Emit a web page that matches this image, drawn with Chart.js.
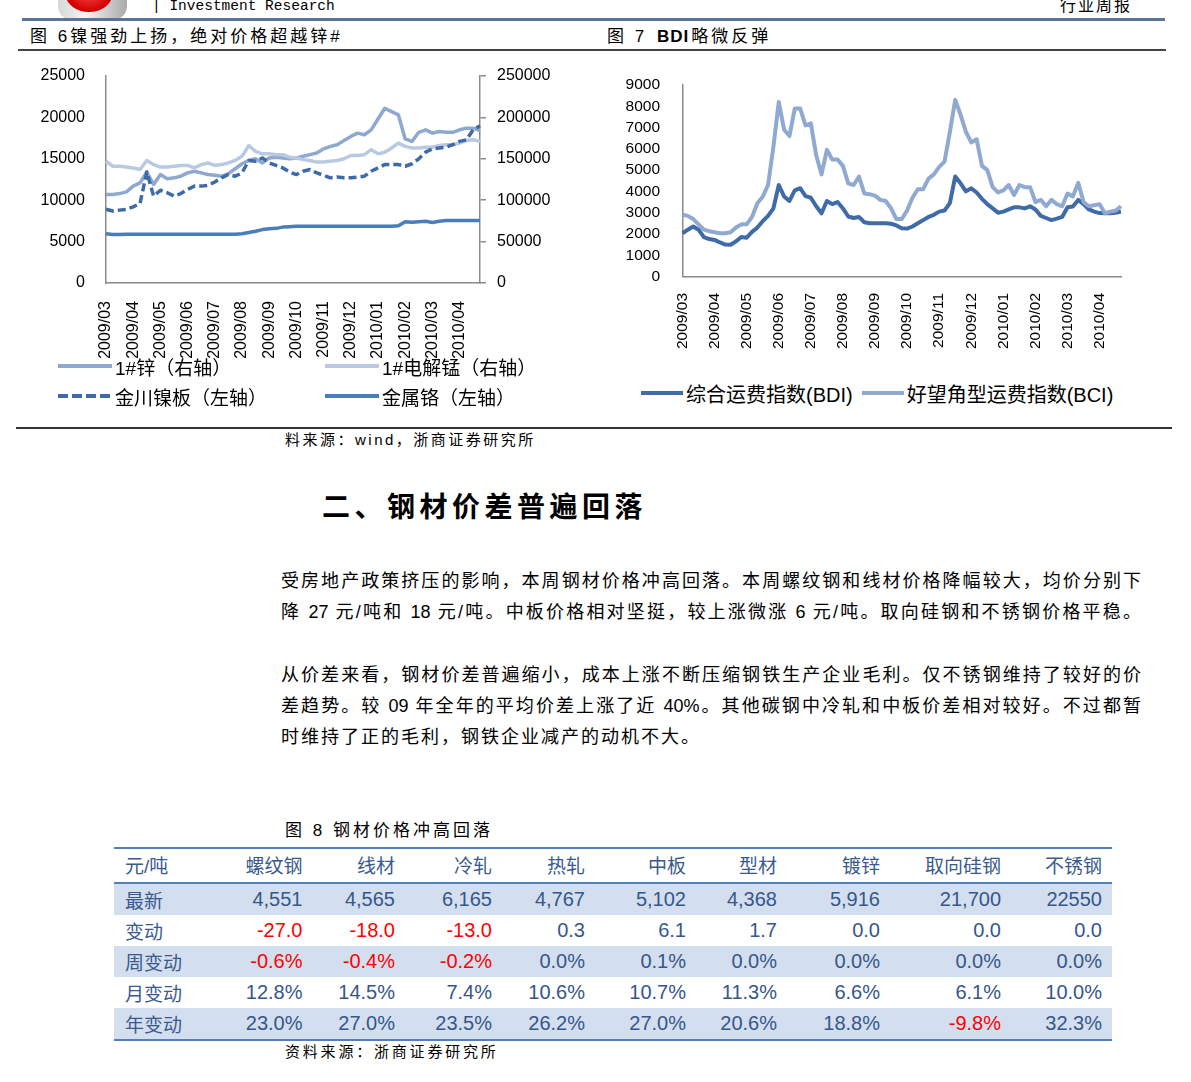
<!DOCTYPE html>
<html>
<head>
<meta charset="utf-8">
<script src="https://cdn.jsdelivr.net/npm/chart.js@4/dist/chart.umd.min.js"></script>
<style>
body{margin:0;width:1191px;height:1082px;position:relative;overflow:hidden;background:#fff;
  font-family:"Liberation Sans","Noto Sans CJK SC",sans-serif;color:#000}
.abs{position:absolute;white-space:nowrap}
.rule{position:absolute}
canvas{position:absolute}
.cap{font-size:17px;line-height:20px;letter-spacing:3px}
.cap b{letter-spacing:1px;margin:0 2px}
.body{position:absolute;left:281px;width:860px;font-size:18px;line-height:24px;white-space:nowrap}
.just{text-align:justify;text-align-last:justify;white-space:normal}
.lg-item{display:flex;align-items:center;white-space:nowrap}
.lg-sw{display:inline-block;height:4px;margin-right:3px}
#lg1{position:absolute;left:58px;top:351px;display:grid;grid-template-columns:267px 267px;grid-auto-rows:30px;font-size:19px}
#lg1 .lg-sw{width:54px}
#lg2{position:absolute;left:641px;top:378px;height:30px;display:flex;gap:9px;font-size:20px}
#lg2 .lg-sw{width:42px}
#tbl{position:absolute;left:114px;top:847px;width:998px;border-collapse:collapse;table-layout:fixed;
  border-top:2px solid #4F81BD;border-bottom:2px solid #4F81BD;color:#36568C}
#tbl th,#tbl td{padding:0 10px 0 0;text-align:right;height:31px;white-space:nowrap}
#tbl th{font-weight:normal;font-size:19px;border-bottom:2px solid #4F81BD;height:30px;color:#3A5A8F;padding-bottom:3px}
#tbl td{font-size:20px}
#tbl td:first-child,#tbl th:first-child{text-align:left;padding-left:11px;font-size:19px;color:#3A5A8F}
#tbl tr.sh td{background:#D3DFEE}
.neg{color:#FF0000}
</style>
</head>
<body>

<!-- page header -->
<div class="abs" style="left:58px;top:-30px;width:69px;height:50px;border-radius:14px;background:linear-gradient(90deg,#d8d8d8,#f4f4f4 40%,#a9a9a9)"></div>
<div class="abs" style="left:66px;top:-22px;width:46px;height:34px;border-radius:50%;background:radial-gradient(circle at 50% 30%,#ff5a5a,#d30000 70%)"></div>
<div class="abs" style="left:152px;top:-3px;font-family:'Liberation Mono',monospace;font-size:14.5px;line-height:18px">| Investment Research</div>
<div class="abs" style="left:1060px;top:-3px;font-size:16px;line-height:18px;letter-spacing:2px">行业周报</div>
<div class="rule" style="left:22px;top:18px;width:1143px;height:3px;background:#5A7397"></div>

<div class="abs cap" style="left:30px;top:27px">图 6镍强劲上扬，绝对价格超越锌#</div>
<div class="abs cap" style="left:607px;top:27px">图 7 <b>BDI</b>略微反弹</div>
<div class="rule" style="left:18px;top:49px;width:1148px;height:2px;background:#444"></div>

<canvas id="c1" width="590" height="300" style="left:0;top:61px"></canvas>
<canvas id="c2" width="560" height="300" style="left:600px;top:60px"></canvas>
<div id="lg1"></div>
<div id="lg2"></div>

<div class="rule" style="left:16px;top:427px;width:1156px;height:1.5px;background:#333"></div>
<div class="abs" style="left:285px;top:430px;font-size:15px;line-height:20px;letter-spacing:2.5px">料来源：wind，浙商证券研究所</div>

<div class="abs" style="left:322px;top:490px;font-size:28px;line-height:36px;font-weight:bold;letter-spacing:4.5px">二、钢材价差普遍回落</div>

<div class="body just" style="top:569px">受房地产政策挤压的影响，本周钢材价格冲高回落。本周螺纹钢和线材价格降幅较大，均价分别下</div>
<div class="body just" style="top:600px">降 27 元/吨和 18 元/吨。中板价格相对坚挺，较上涨微涨 6 元/吨。取向硅钢和不锈钢价格平稳。</div>
<div class="body just" style="top:663px">从价差来看，钢材价差普遍缩小，成本上涨不断压缩钢铁生产企业毛利。仅不锈钢维持了较好的价</div>
<div class="body just" style="top:694px">差趋势。较 09 年全年的平均价差上涨了近 40%。其他碳钢中冷轧和中板价差相对较好。不过都暂</div>
<div class="body" style="top:725px;letter-spacing:2px">时维持了正的毛利，钢铁企业减产的动机不大。</div>

<div class="abs" style="left:285px;top:821px;font-size:17px;line-height:20px;letter-spacing:3px">图 8 钢材价格冲高回落</div>
<table id="tbl">
<colgroup>
<col style="width:100px"><col style="width:98.5px"><col style="width:92.5px"><col style="width:97px"><col style="width:93px">
<col style="width:101px"><col style="width:91px"><col style="width:103px"><col style="width:121px"><col style="width:101px">
</colgroup>
<thead><tr id="thead"></tr></thead>
<tbody id="tbody"></tbody>
</table>
<div class="abs" style="left:285px;top:1042px;font-size:15px;line-height:20px;letter-spacing:2.8px">资料来源：浙商证券研究所</div>

<script>
// ---- figure 6: metal prices, weekly, 2009/03 - 2010/04 ----
const months = ['2009/03','2009/04','2009/05','2009/06','2009/07','2009/08','2009/09',
                '2009/10','2009/11','2009/12','2010/01','2010/02','2010/03','2010/04'];

// right axis
const zinc = [107000,107000,108000,110000,117000,121000,134000,119000,131000,126000,
              127000,129000,133000,135000,133000,131000,130000,129000,132000,138000,
              144000,148000,150000,145000,151000,152000,151000,150000,151000,153000,
              155000,157000,162000,165000,167000,172000,177000,181000,179000,185000,
              198000,211000,207000,203000,174000,171000,182000,185000,181000,183000,
              182000,182000,185000,187000,187000,184000];
const manganese = [147000,141000,141000,140000,139000,137000,148000,143000,140000,140000,
                   141000,142000,142000,139000,143000,145000,142000,143000,145000,148000,
                   153000,166000,159000,156000,156000,155000,155000,152000,151000,149000,
                   148000,146000,146000,147000,148000,150000,154000,154000,155000,161000,
                   156000,158000,163000,169000,165000,163000,163000,164000,164000,166000,
                   167000,167000,169000,172000,173000,171000];
// left axis
const nickel = [8900,8700,8800,8900,9200,9600,13400,10500,11200,10900,
                10500,10800,11300,11700,11700,11800,12200,12700,13100,12900,
                13300,14800,14700,15100,14500,14200,13900,13400,13100,13500,
                13700,13300,13000,12700,12800,12700,12700,12800,12900,13500,
                13900,14300,14300,14300,14100,14400,15000,15800,16200,16300,
                16400,16700,17100,17300,18500,19000];
const chrome = [5950,5850,5850,5900,5900,5900,5900,5900,5900,5900,
                5900,5900,5900,5900,5900,5900,5900,5900,5900,5900,
                5950,6100,6250,6450,6550,6600,6750,6800,6850,6850,
                6850,6850,6850,6850,6850,6850,6850,6850,6850,6850,
                6850,6850,6850,6900,7400,7350,7400,7450,7300,7450,
                7550,7550,7550,7550,7550,7550];
const leftTicks = [0,5000,10000,15000,20000,25000];
const rightTicks = [0,50000,100000,150000,200000,250000];

// ---- figure 7: BDI / BCI ----
const bdi = [2030,2200,2350,2200,1850,1760,1720,1600,1500,1490,
             1650,1860,1820,2100,2300,2600,2850,3200,4300,3760,
             3550,4050,4150,3780,3700,3300,2970,3550,3400,3500,
             3200,2820,2750,2800,2550,2500,2500,2500,2500,2480,
             2400,2270,2250,2350,2500,2650,2800,2900,3050,3100,
             3450,4700,4380,4000,4150,3950,3650,3400,3200,3000,
             3050,3150,3250,3250,3200,3300,3150,2850,2750,2650,
             2720,2800,3250,3290,3600,3400,3150,3050,2980,2970,
             2970,3000,3050];
const bci = [2900,2850,2700,2450,2200,2130,2080,2030,2030,2080,
             2300,2450,2450,2800,3440,3750,4300,6100,8200,6900,
             6600,7900,7900,7100,7200,5700,4800,5950,5500,5500,
             5200,4380,4300,4700,3900,3870,3800,3600,3550,3200,
             2700,2700,3100,3700,4100,4100,4600,4800,5150,5400,
             6800,8300,7600,6800,6300,6450,5200,5000,4200,3950,
             4050,4300,3830,4300,4200,4200,3500,3600,3300,3600,
             3400,3300,3900,3760,4400,3500,3300,3350,3400,2970,
             3050,3100,3300];
const bdiTicks = [0,1000,2000,3000,4000,5000,6000,7000,8000,9000];

// ---- figure 8: steel price table ----
const products = ['螺纹钢','线材','冷轧','热轧','中板','型材','镀锌','取向硅钢','不锈钢'];
const latest = ['4,551','4,565','6,165','4,767','5,102','4,368','5,916','21,700','22550'];
const change = [-27.0,-18.0,-13.0,0.3,6.1,1.7,0.0,0.0,0.0];
const weekPct = [-0.6,-0.4,-0.2,0.0,0.1,0.0,0.0,0.0,0.0];
const monthPct = [12.8,14.5,7.4,10.6,10.7,11.3,6.6,6.1,10.0];
const yearPct = [23.0,27.0,23.5,26.2,27.0,20.6,18.8,-9.8,32.3];

Chart.defaults.font.family = "'Liberation Sans', 'Noto Sans CJK SC', sans-serif";
Chart.defaults.color = '#000';

const axisGrey = '#8a8a8a';

// fixed axis sizes, and no extra label padding pushed into the layout
function fixWidth(w){
    return function(scale){ scale.width = w; scale.paddingTop = 0; scale.paddingBottom = 0; };
}
function fixHeight(h){
    return function(scale){ scale.height = h; scale.paddingLeft = 0; scale.paddingRight = 0; };
}

function monthLabels(n, perMonth){
    let out = [];
    for (let i = 0; i < n; i++) out.push(months[Math.floor(i / perMonth)]);
    return out;
}

function xAxis(perMonth, h, pad, size){
    return {
        type: 'category',
        offset: false,
        grid: {display: false, drawTicks: false},
        border: {display: true, color: axisGrey, width: 1.5},
        afterFit: fixHeight(h),
        ticks: {
            autoSkip: false, minRotation: 90, maxRotation: 90, padding: pad,
            font: {size: size},
            callback: function(val, idx){
                return idx % perMonth === 0 ? this.getLabelForValue(val) : '';
            }
        }
    };
}

const c1 = new Chart(document.getElementById('c1'), {
    type: 'line',
    data: {
        labels: monthLabels(zinc.length, 4),
        datasets: [
            {label: '1#锌（右轴）', data: zinc, yAxisID: 'yR', borderColor: '#8FA8D0', order: 4},
            {label: '1#电解锰（右轴）', data: manganese, yAxisID: 'yR', borderColor: '#BAC9E2', order: 3},
            {label: '金川镍板（左轴）', data: nickel, yAxisID: 'yL', borderColor: '#3E6BA8', borderDash: [8, 4], order: 2},
            {label: '金属铬（左轴）', data: chrome, yAxisID: 'yL', borderColor: '#4A7EBB', order: 1}
        ]
    },
    options: {
        responsive: false,
        animation: false,
        devicePixelRatio: 1,
        layout: {padding: {top: 15, left: 0, right: 0, bottom: 0}},
        elements: {point: {radius: 0}, line: {borderWidth: 3.5, tension: 0, borderJoinStyle: 'round'}},
        plugins: {legend: {display: false}, tooltip: {enabled: false}},
        scales: {
            x: xAxis(4, 78, 18, 16),
            yL: {
                position: 'left', min: 0, max: 25000,
                afterFit: fixWidth(106),
                afterBuildTicks: function(s){ s.ticks = leftTicks.map(v => ({value: v})); },
                grid: {display: false, drawTicks: false},
                border: {display: true, color: axisGrey, width: 1.5},
                ticks: {padding: 21, autoSkip: false, font: {size: 16}, callback: v => String(v)}
            },
            yR: {
                position: 'right', min: 0, max: 250000,
                afterFit: fixWidth(110),
                afterBuildTicks: function(s){ s.ticks = rightTicks.map(v => ({value: v})); },
                grid: {display: true, drawOnChartArea: false, drawTicks: true, tickLength: 6, color: axisGrey, lineWidth: 1.5},
                border: {display: true, color: axisGrey, width: 1.5},
                ticks: {padding: 11, autoSkip: false, font: {size: 16}, callback: v => String(v)}
            }
        }
    }
});

const c2 = new Chart(document.getElementById('c2'), {
    type: 'line',
    data: {
        labels: monthLabels(bdi.length, 6),
        datasets: [
            {label: '综合运费指数(BDI)', data: bdi, borderColor: '#3F6CA8', order: 2},
            {label: '好望角型运费指数(BCI)', data: bci, borderColor: '#8FA9D0', order: 1}
        ]
    },
    options: {
        responsive: false,
        animation: false,
        devicePixelRatio: 1,
        layout: {padding: {top: 25, left: 0, right: 39, bottom: 0}},
        elements: {point: {radius: 0}, line: {borderWidth: 4, tension: 0, borderJoinStyle: 'round'}},
        plugins: {legend: {display: false}, tooltip: {enabled: false}},
        scales: {
            x: xAxis(6, 83.5, 16.5, 15.5),
            y: {
                min: 0, max: 9000,
                afterFit: fixWidth(82.5),
                afterBuildTicks: function(s){ s.ticks = bdiTicks.map(v => ({value: v})); },
                ticks: {padding: 22.5, autoSkip: false, font: {size: 15.5}, callback: v => String(v)},
                grid: {display: false, drawTicks: false},
                border: {display: true, color: axisGrey, width: 1.5}
            }
        }
    }
});

// html legends built from the chart datasets
function buildLegend(el, chart, order){
    order.forEach(function(i){
        const ds = chart.data.datasets[i];
        const item = document.createElement('div');
        item.className = 'lg-item';
        const sw = document.createElement('span');
        sw.className = 'lg-sw';
        if (ds.borderDash) {
            sw.style.background = 'repeating-linear-gradient(to right,' + ds.borderColor + ' 0 10px, transparent 10px 14px)';
        } else {
            sw.style.background = ds.borderColor;
        }
        item.appendChild(sw);
        item.appendChild(document.createTextNode(ds.label));
        el.appendChild(item);
    });
}
buildLegend(document.getElementById('lg1'), c1, [0, 1, 2, 3]);
buildLegend(document.getElementById('lg2'), c2, [0, 1]);

// table
const head = document.getElementById('thead');
['元/吨'].concat(products).forEach(function(t){
    const th = document.createElement('th');
    th.textContent = t;
    head.appendChild(th);
});
const rows = [
    ['最新', latest, v => v],
    ['变动', change, v => v.toFixed(1)],
    ['周变动', weekPct, v => v.toFixed(1) + '%'],
    ['月变动', monthPct, v => v.toFixed(1) + '%'],
    ['年变动', yearPct, v => v.toFixed(1) + '%']
];
const body = document.getElementById('tbody');
rows.forEach(function(r, k){
    const tr = document.createElement('tr');
    if (k % 2 === 0) tr.className = 'sh';
    const td0 = document.createElement('td');
    td0.textContent = r[0];
    tr.appendChild(td0);
    r[1].forEach(function(v){
        const td = document.createElement('td');
        td.textContent = r[2](v);
        if (typeof v === 'number' && v < 0) td.className = 'neg';
        tr.appendChild(td);
    });
    body.appendChild(tr);
});
</script>
</body>
</html>
